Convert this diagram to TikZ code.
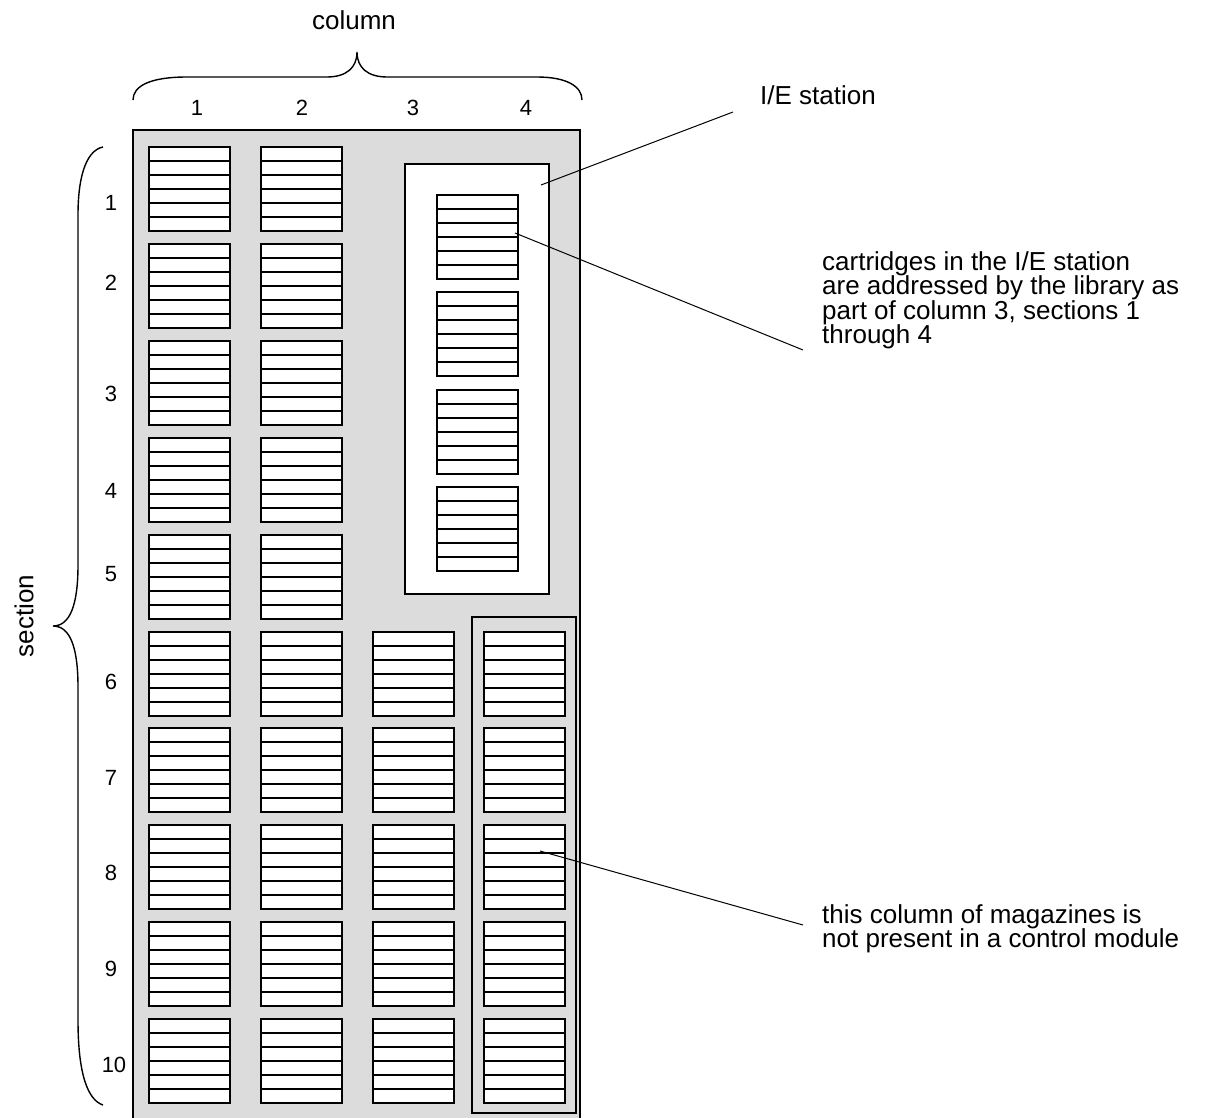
\documentclass[tikz,border=0pt]{standalone}
\usepackage{fontspec}
\setmainfont{Liberation Sans}
\usetikzlibrary{calc}
\definecolor{panel}{RGB}{220,220,220}
\newcommand\magslots[1]{%
  \foreach \slotk in {14,28,42,56,70}{%
    \draw[slotline] ([yshift=-\slotk pt]#1.north west) -- ([yshift=-\slotk pt]#1.north east);
  }%
}
\begin{document}
\begin{tikzpicture}[x=1pt,y=-1pt,
  mag/.style={draw, line width=2pt, fill=white, minimum width=81pt, minimum height=84pt, inner sep=0pt, outer sep=0pt},
  slotline/.style={line width=2pt},
  frame/.style={draw, line width=2pt, inner sep=0pt, outer sep=0pt},
  num/.style={font=\fontsize{22}{24}\selectfont, inner sep=0pt},
  title/.style={font=\fontsize{26}{26}\selectfont, inner sep=0pt},
  note/.style={font=\fontsize{26}{24.5}\selectfont, inner sep=0pt, align=left, anchor=north west},
  brace/.style={line width=1.4pt},
  leader/.style={line width=1pt}]
\useasboundingbox (0,0) rectangle (1212,1118);
% panel
\fill[panel] (133,130) rectangle (580,1125);
\draw[line width=2pt] (133,1125) -- (133,130) -- (580,130) -- (580,1125);
% frames
\node[frame, fill=white, minimum width=144pt, minimum height=430pt] (ie) at (477,379) {};
\node[frame, minimum width=104pt, minimum height=496pt] (c4) at (524,865) {};
% magazines
\foreach \r/\t in {1/147,2/244,3/341,4/438,5/535,6/632,7/728,8/825,9/922,10/1019}{
  \foreach \c/\x in {1/189.5,2/301.5}{
    \node[mag] (m-\r-\c) at (\x,\t+42) {};
    \magslots{m-\r-\c}
  }
}
\foreach \r/\t in {6/632,7/728,8/825,9/922,10/1019}{
  \foreach \c/\x in {3/413.5,4/524.5}{
    \node[mag] (m-\r-\c) at (\x,\t+42) {};
    \magslots{m-\r-\c}
  }
}
\foreach \q/\t in {1/195,2/292,3/390,4/487}{
  \node[mag] (ie-\q) at (477.5,\t+42) {};
  \magslots{ie-\q}
}
% column labels
\foreach \c/\x in {1/197,2/302,3/413,4/526}{
  \node[num] (cl-\c) at (\x,108) {\c};
}
\node[title] (coltitle) at (354,20) {column};
% row labels
\foreach \r/\y in {1/203,2/283,3/394,4/491,5/574,6/682,7/778,8/873,9/969}{
  \node[num] (rl-\r) at (111,\y) {\r};
}
\node[num] (rl-10) at (114,1065) {10};
\node[title, rotate=90] (sectitle) at (24,616) {section};
% braces
\draw[brace] (133,100) .. controls (133,86) and (150,77) .. (187,77) -- (327,77) .. controls (346,77) and (357,68) .. (357,52) .. controls (357,68) and (368,77) .. (387,77) -- (537,77) .. controls (566,77) and (582,86) .. (582,100);
\draw[brace] (103,147) .. controls (88,150) and (78,172) .. (78,215) -- (78,565) .. controls (78,605) and (70,626) .. (53,626) .. controls (70,626) and (78,647) .. (78,687) -- (78,1020) .. controls (78,1075) and (88,1100) .. (103,1105);
% notes
\node[title, anchor=base west] (ienote) at (760,105) {I/E station};
\node[note] (cartnote) at (822,251) {cartridges in the I/E station\\are addressed by the library as\\part of column 3, sections 1\\through 4};
\node[note] (c4note) at (822,904) {this column of magazines is\\not present in a control module};
% leaders
\coordinate (ieP) at (541,185);
\coordinate (ieQ) at (733,112);
\coordinate (cartP) at (515,233);
\coordinate (cartQ) at (803,350);
\coordinate (c4P) at (540,851);
\coordinate (c4Q) at (803,925);
\draw[leader] (ieP) -- (ieQ);
\draw[leader] (cartP) -- (cartQ);
\draw[leader] (c4P) -- (c4Q);
\end{tikzpicture}
\end{document}
